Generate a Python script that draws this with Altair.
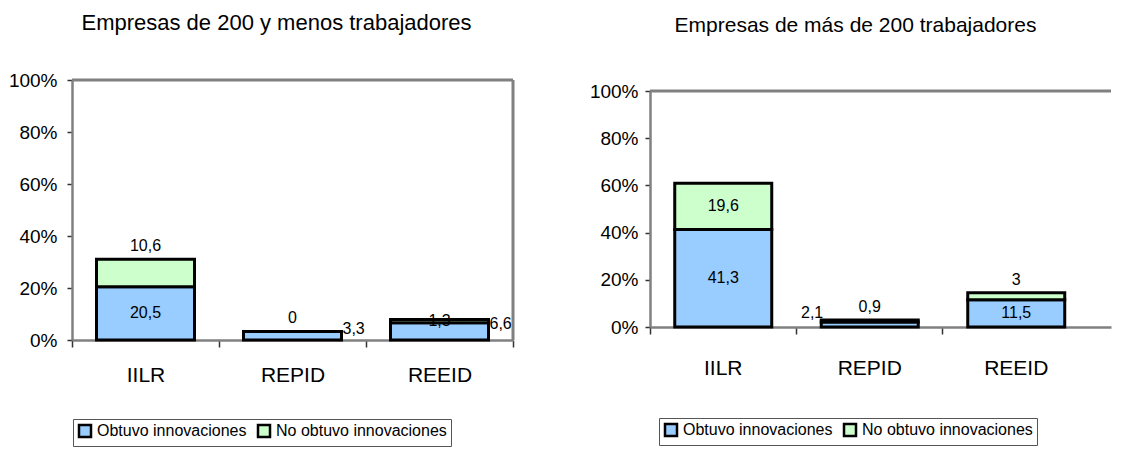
import altair as alt
import pandas as pd

categories = ["IILR", "REPID", "REEID"]
series = ["Obtuvo innovaciones", "No obtuvo innovaciones"]
colors = ["#99CCFF", "#CCFFCC"]
titles = ["Empresas de 200 y menos trabajadores", "Empresas de más de 200 trabajadores"]

small_obtuvo = [20.5, 3.3, 6.6]
small_no_obtuvo = [10.6, 0, 1.3]
large_obtuvo = [41.3, 2.1, 11.5]
large_no_obtuvo = [19.6, 0.9, 3]

# where Excel put each data label
small_mode_obtuvo = ["inside", "right", "right"]
small_mode_no = ["above", "above", "inside"]
large_mode_obtuvo = ["inside", "left", "inside"]
large_mode_no = ["inside", "above", "above"]

y_ticks = [0, 20, 40, 60, 80, 100]

FONT = "Liberation Sans"
GRAY = "#808080"


def fmt(v):
    return f"{v:g}".replace(".", ",")


def make_df(obt, no, mo, mn):
    rows = []
    for i, c in enumerate(categories):
        rows.append(dict(cat=c, serie=series[0], ord=0, value=obt[i], mode=mo[i], label=fmt(obt[i])))
        rows.append(dict(cat=c, serie=series[1], ord=1, value=no[i], mode=mn[i], label=fmt(no[i])))
    return pd.DataFrame(rows)


def panel(df, title, width, height, y_top, pad_outer, bar_size, tick_band, title_dx,
          title_offset, title_size, legend_x, legend_y, x_label_pad, y_label_pad, right_border):
    yscale = alt.Scale(domain=[y_ticks[0], y_ticks[-1]], range=[height, y_top])
    yaxis = alt.Axis(title=None, values=y_ticks, labelExpr="datum.value + '%'", grid=False,
                     domainColor=GRAY, domainWidth=2.5, tickColor="#333333", tickWidth=1.5,
                     tickSize=5, labelFont=FONT, labelFontSize=19, labelColor="black",
                     labelPadding=y_label_pad)
    axis_kw = dict(title=None, labelAngle=0, grid=False, domainColor=GRAY, domainWidth=2.5,
                   tickColor="#333333", tickWidth=1.5, tickSize=7, labelFont=FONT,
                   labelFontSize=21, labelColor="black", labelPadding=x_label_pad)
    if tick_band == "extent":
        axis_kw["tickBand"] = "extent"
    else:
        axis_kw["bandPosition"] = 0
    xenc = alt.X("cat:N", sort=categories,
                 scale=alt.Scale(domain=categories, paddingInner=0, paddingOuter=pad_outer, align=0),
                 axis=alt.Axis(**axis_kw))

    base = alt.Chart(df).transform_stack(
        stack="value", groupby=["cat"], as_=["y0", "y1"],
        sort=[alt.SortField("ord", order="ascending")]
    ).transform_calculate(mid="(datum.y0 + datum.y1) / 2")

    bars = base.mark_bar(size=bar_size, stroke="black", strokeWidth=3).encode(
        x=xenc,
        y=alt.Y("y0:Q", scale=yscale, axis=yaxis),
        y2="y1:Q",
        color=alt.Color("serie:N", scale=alt.Scale(domain=series, range=colors),
                        legend=alt.Legend(title=None, orient="none", legendX=legend_x,
                                          legendY=legend_y, direction="horizontal",
                                          symbolType="square", symbolSize=144,
                                          symbolStrokeColor="black", symbolStrokeWidth=2.5,
                                          labelFont=FONT, labelFontSize=16, labelColor="black",
                                          labelLimit=0, strokeColor="#555555", padding=4,
                                          columnPadding=6, labelOffset=4, fillColor="white")),
    )

    def labels(mode, y, **kw):
        return base.transform_filter(f"datum.mode == '{mode}'").mark_text(
            font=FONT, fontSize=16, color="black", **kw
        ).encode(x=alt.X("cat:N", sort=categories), y=alt.Y(y), text="label:N")

    bw = bar_size / 2
    layers = [
        bars,
        labels("inside", "mid:Q", baseline="middle"),
        labels("above", "y1:Q", baseline="alphabetic", dy=-8),
        labels("right", "mid:Q", baseline="middle", align="left", dx=bw + 1, dy=-7),
        labels("left", "mid:Q", baseline="middle", align="right", dx=-bw + 2, dy=-12),
    ]
    top = alt.Chart(pd.DataFrame({"v": [y_ticks[-1]]})).mark_rule(
        color=GRAY, strokeWidth=3).encode(y="v:Q", x=alt.value(0), x2=alt.value(width))
    layers.append(top)
    if right_border:
        rb = alt.Chart(pd.DataFrame({"lo": [y_ticks[0]], "hi": [y_ticks[-1]]})).mark_rule(
            color=GRAY, strokeWidth=3).encode(y="lo:Q", y2="hi:Q", x=alt.value(width))
        layers.append(rb)

    return alt.layer(*layers).properties(
        width=width, height=height,
        title=alt.TitleParams(title, font=FONT, fontSize=title_size, fontWeight="normal",
                              color="black", anchor="middle", frame="group", dx=title_dx,
                              offset=title_offset),
    )


left = panel(make_df(small_obtuvo, small_no_obtuvo, small_mode_obtuvo, small_mode_no),
             titles[0], width=441, height=260, y_top=0, pad_outer=0, bar_size=98,
             tick_band="extent", title_dx=-16, title_offset=36, title_size=22,
             legend_x=1, legend_y=339, x_label_pad=17, y_label_pad=10, right_border=True)

right = panel(make_df(large_obtuvo, large_no_obtuvo, large_mode_obtuvo, large_mode_no),
              titles[1], width=461, height=247, y_top=11, pad_outer=0.0734, bar_size=97,
              tick_band="start", title_dx=-25, title_offset=44, title_size=21,
              legend_x=9, legend_y=338, x_label_pad=23, y_label_pad=7, right_border=False)

chart = alt.hconcat(left, right, spacing=74).resolve_scale(
    color="independent", x="independent", y="independent"
).properties(padding={"left": 0, "top": 4, "right": 0, "bottom": 0}).configure_view(stroke=None)

chart.save("out.html", embed_options={"renderer": "svg", "actions": False})
